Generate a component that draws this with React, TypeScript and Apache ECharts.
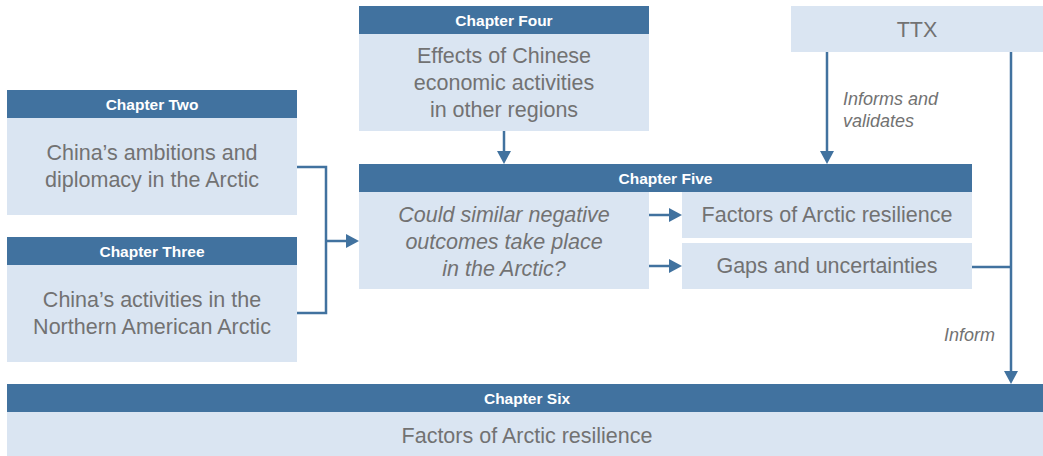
import React, { useEffect, useRef } from "react";
import * as echarts from "echarts";

// ---- content ----
const chapterTitles = ["Chapter Two", "Chapter Three", "Chapter Four", "Chapter Five", "Chapter Six"];
const chapterBodies = [
  "China’s ambitions and\ndiplomacy in the Arctic",
  "China’s activities in the\nNorthern American Arctic",
  "Effects of Chinese\neconomic activities\nin other regions",
  "Could similar negative\noutcomes take place\nin the Arctic?",
  "Factors of Arctic resilience",
];
const chapterFiveOutputs = ["Factors of Arctic resilience", "Gaps and uncertainties"];
const ttxLabel = "TTX";
const linkLabels = ["Informs and\nvalidates", "Inform"];

// ---- styles ----
const DARK = "#41729f";
const LIGHT = "#dae5f2";
const GREY = "#727272";
const FONT = "Liberation Sans";
const LW = 2.5;
const BODY = 21.5;
const HEAD = 15.5;
const LABEL = 18;

function rect(x: number, y: number, w: number, h: number, fill: string) {
  return { type: "rect", shape: { x, y, width: w, height: h }, style: { fill } };
}
function text(t: string, x: number, y: number, opts: any = {}) {
  const size = opts.size ?? BODY;
  return {
    type: "text",
    x,
    y,
    style: {
      text: t,
      fill: opts.fill ?? GREY,
      fontFamily: FONT,
      fontSize: size,
      fontWeight: opts.bold ? "bold" : "normal",
      fontStyle: opts.italic ? "italic" : "normal",
      align: opts.align ?? "center",
      textAlign: opts.align ?? "center",
      verticalAlign: "middle",
      textVerticalAlign: "middle",
      lineHeight: opts.lh ?? 27,
    },
  };
}
function line(x1: number, y1: number, x2: number, y2: number) {
  return { type: "line", shape: { x1, y1, x2, y2 }, style: { stroke: DARK, lineWidth: LW } };
}
function poly(points: number[][]) {
  return { type: "polyline", shape: { points }, style: { stroke: DARK, lineWidth: LW, fill: "none" } };
}
function tri(points: number[][]) {
  return { type: "polygon", shape: { points }, style: { fill: DARK } };
}
function arrowRight(x1: number, x2: number, y: number) {
  return [line(x1, y, x2 - 12, y), tri([[x2 - 13, y - 7], [x2 - 13, y + 7], [x2, y]])];
}
function arrowDown(x: number, y1: number, y2: number) {
  return [line(x, y1, x, y2 - 12), tri([[x - 7, y2 - 13], [x + 7, y2 - 13], [x, y2]])];
}
function header(title: string, cx: number, y: number) {
  return text(title, cx, y + 14, { size: HEAD, bold: true, fill: "#ffffff" });
}
function chapter(title: string, body: string, x: number, y: number, w: number, hb: number, bodyOpts: any = {}) {
  return [
    rect(x, y, w, 28, DARK),
    header(title, x + w / 2, y),
    rect(x, y + 28, w, hb, LIGHT),
    text(body, x + w / 2, y + 28 + hb / 2, bodyOpts),
  ];
}

export default function App() {
  const ref = useRef<HTMLDivElement>(null);
  useEffect(() => {
    document.body.style.margin = "0";
    const chart = echarts.init(ref.current!, undefined, { renderer: "svg" });
    const els: any[] = [
      ...chapter(chapterTitles[0], chapterBodies[0], 7, 90, 290, 97),
      ...chapter(chapterTitles[1], chapterBodies[1], 7, 237, 290, 97),
      ...chapter(chapterTitles[2], chapterBodies[2], 359, 6, 290, 97),
      // chapter five
      rect(359, 164, 613, 28, DARK),
      header(chapterTitles[3], 665.5, 164),
      rect(359, 192, 290, 97, LIGHT),
      text(chapterBodies[3], 504, 242, { italic: true }),
      rect(682, 192, 290, 46, LIGHT),
      text(chapterFiveOutputs[0], 827, 215),
      rect(682, 243, 290, 46, LIGHT),
      text(chapterFiveOutputs[1], 827, 266),
      // chapter six
      rect(7, 384, 1036, 28, DARK),
      header(chapterTitles[4], 527, 384),
      rect(7, 412, 1036, 44, LIGHT),
      text(chapterBodies[4], 527, 436),
      // TTX
      rect(791, 6, 252, 46, LIGHT),
      text(ttxLabel, 917, 30),
      // connectors
      poly([[297, 167], [326, 167], [326, 313], [297, 313]]),
      ...arrowRight(326, 359, 241),
      ...arrowDown(504, 131, 164),
      ...arrowDown(827, 52, 164),
      ...arrowRight(649, 682, 215),
      ...arrowRight(649, 682, 266),
      line(972, 267, 1011, 267),
      ...arrowDown(1011, 52, 384),
      text(linkLabels[0], 843, 110, { italic: true, size: LABEL, align: "left", lh: 22 }),
      text(linkLabels[1], 944, 335, { italic: true, size: LABEL, align: "left", lh: 22 }),
    ];
    chart.setOption({ animation: false, graphic: { elements: els } });
    return () => chart.dispose();
  }, []);
  return <div ref={ref} style={{ position: "absolute", left: 0, top: 0, width: 1043, height: 456 }} />;
}
